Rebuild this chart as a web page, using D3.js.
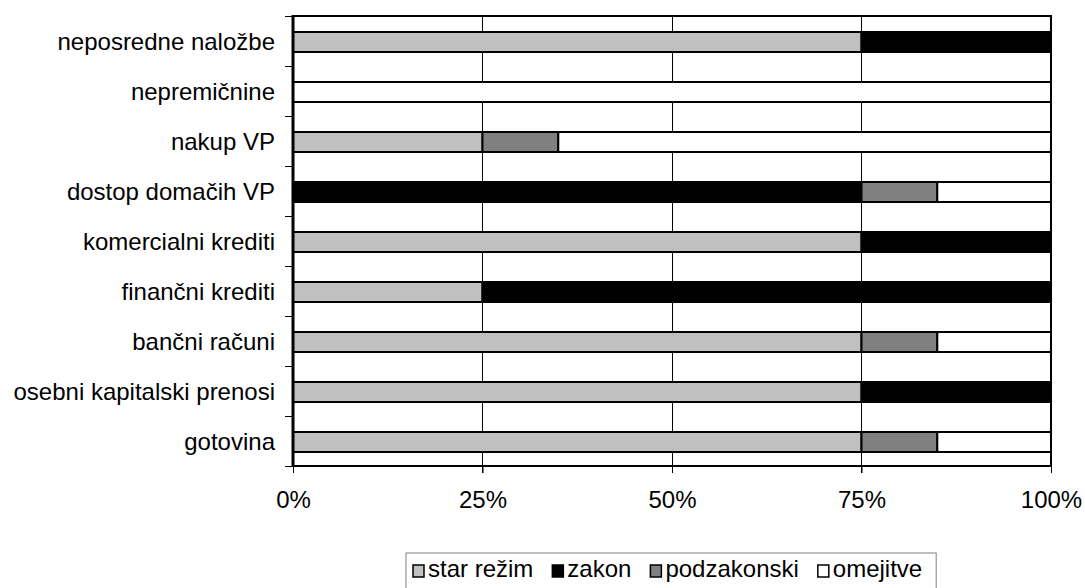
<!DOCTYPE html>
<html><head><meta charset="utf-8">
<script src="https://cdn.jsdelivr.net/npm/d3@7"></script>
<style>body{margin:0;background:#fff}svg{display:block;font-family:Arial,"Liberation Sans",sans-serif}</style>
</head><body><svg id="c" width="1085" height="588"></svg>
<script>
const categories = ["neposredne naložbe","nepremičnine","nakup VP","dostop domačih VP","komercialni krediti","finančni krediti","bančni računi","osebni kapitalski prenosi","gotovina"];
const seriesNames = ["star režim","zakon","podzakonski","omejitve"];
const seriesColors = ["#c0c0c0","#000000","#808080","#ffffff"];
const starRezim   = [75, 0, 25,  0, 75, 25, 75, 75, 75];
const zakon       = [25, 0,  0, 75, 25, 75,  0, 25,  0];
const podzakonski = [ 0, 0, 10, 10,  0,  0, 10,  0, 10];
const omejitve    = [ 0,100, 65, 15,  0,  0, 15,  0, 15];
const tickValues = [0, 0.25, 0.5, 0.75, 1];
const tickLabels = ["0%","25%","50%","75%","100%"];

const svg = d3.select("#c");
const L = 293, R = 1051, T = 16, B = 466;
const rows = categories.map((c,i)=>({cat:c, "star režim":starRezim[i], "zakon":zakon[i], "podzakonski":podzakonski[i], "omejitve":omejitve[i]}));
rows.forEach(r=>{r.total = seriesNames.reduce((s,k)=>s+r[k],0);});
const x = d3.scaleLinear().domain([0,1]).range([L,R]);
const y = d3.scaleBand().domain(categories).range([T,B]).paddingInner(0.6).paddingOuter(0.3);
const color = d3.scaleOrdinal().domain(seriesNames).range(seriesColors);

// gridlines
svg.append("g").selectAll("line").data([0.25,0.5,0.75]).join("line")
  .attr("x1",d=>x(d)).attr("x2",d=>x(d)).attr("y1",T).attr("y2",B+7)
  .attr("stroke","#000").attr("stroke-width",1).attr("shape-rendering","crispEdges");

// bars
const stack = d3.stack().keys(seriesNames).value((d,k)=>d[k]/d.total);
const layers = stack(rows);
layers.forEach(layer=>{
  svg.append("g").selectAll("rect").data(layer.filter(d=>d[1]-d[0]>0)).join("rect")
    .attr("x",d=>x(d[0])).attr("width",d=>x(d[1])-x(d[0]))
    .attr("y",d=>y(d.data.cat)+1).attr("height",y.bandwidth())
    .attr("fill",color(layer.key)).attr("stroke","#000").attr("stroke-width",2);
});

// plot border
svg.append("rect").attr("x",L).attr("y",T).attr("width",R-L).attr("height",B-T)
  .attr("fill","none").attr("stroke","#000").attr("stroke-width",2);
svg.append("line").attr("x1",L).attr("x2",L).attr("y1",T-1).attr("y2",B+1).attr("stroke","#000").attr("stroke-width",3);

// y axis ticks (band boundaries)
const yb = d3.range(categories.length+1).map(i=>T + i*(B-T)/categories.length);
svg.append("g").selectAll("line").data(yb).join("line")
  .attr("x1",L-8).attr("x2",L).attr("y1",d=>d).attr("y2",d=>d)
  .attr("stroke","#000").attr("stroke-width",1).attr("shape-rendering","crispEdges");
svg.append("g").selectAll("text").data(categories).join("text")
  .attr("x",275).attr("y",d=>y(d)+y.bandwidth()/2+1).attr("dy","0.35em")
  .attr("text-anchor","end").attr("font-size",24).attr("fill","#000").text(d=>d);

// x axis
const xAxis = d3.axisBottom(x).tickValues(tickValues).tickFormat((d,i)=>tickLabels[i]).tickSize(7).tickPadding(18);
const gx = svg.append("g").attr("transform",`translate(0,${B})`).call(xAxis);
gx.select(".domain").remove();
gx.selectAll("line").attr("stroke","#000");
gx.selectAll("text").attr("font-size",24).attr("fill","#000").attr("font-family","Arial, 'Liberation Sans', sans-serif");

// legend
const lg = svg.append("g");
const lbox = lg.append("rect").attr("y",553).attr("height",45).attr("fill","#fff").attr("stroke","#808080").attr("stroke-width",1);
let cx = 413;
seriesNames.forEach((s)=>{
  lg.append("rect").attr("x",cx).attr("y",565).attr("width",11).attr("height",12)
    .attr("fill",color(s)).attr("stroke","#000").attr("stroke-width",1.5);
  const t = lg.append("text").attr("x",cx+15).attr("y",577).attr("font-size",24).attr("fill","#000").text(s);
  cx = cx + 15 + t.node().getComputedTextLength() + 19;
});
lbox.attr("x",406).attr("width",(cx-19+14)-406);
</script></body></html>
